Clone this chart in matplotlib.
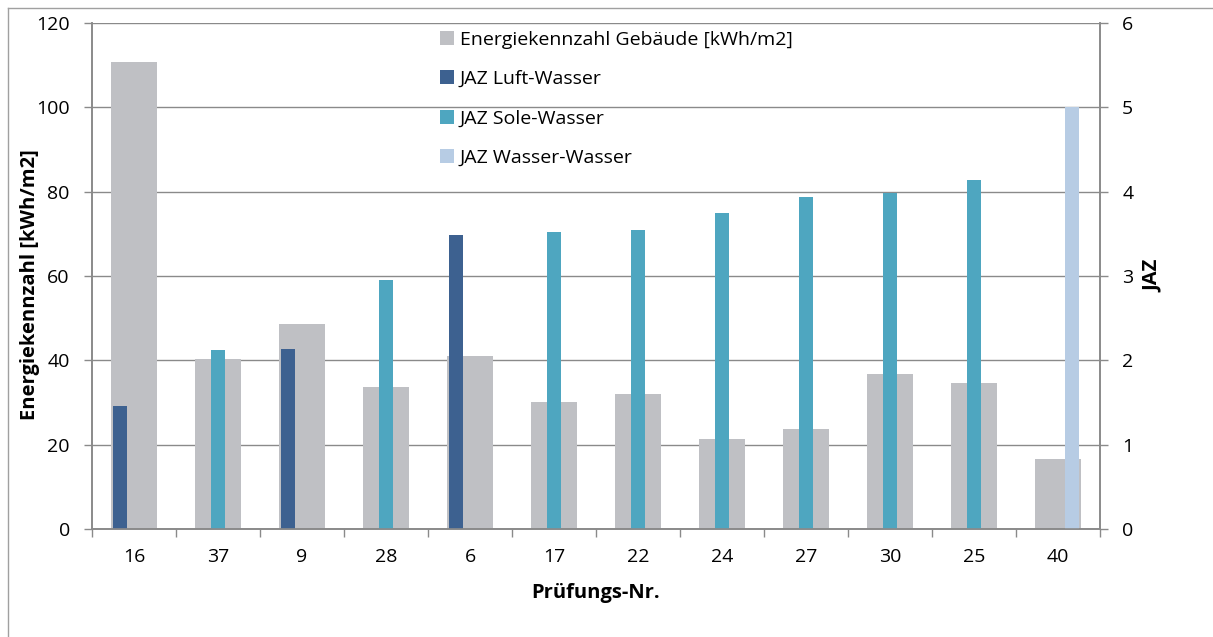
import matplotlib
matplotlib.use("Agg")
import matplotlib.pyplot as plt
from matplotlib.lines import Line2D
import numpy as np

plt.rcParams['font.family'] = ['Open Sans', 'DejaVu Sans']

# data
pruefungen = ['16', '37', '9', '28', '6', '17', '22', '24', '27', '30', '25', '40']
energiekennzahl = [110.7, 40.3, 48.6, 33.7, 41.1, 30.1, 32.1, 21.3, 23.6, 36.8, 34.6, 16.6]
nan = np.nan
jaz_luft = [1.46, nan, 2.14, nan, 3.49, nan, nan, nan, nan, nan, nan, nan]
jaz_sole = [nan, 2.12, nan, 2.95, nan, 3.52, 3.54, 3.75, 3.94, 3.98, 4.14, nan]
jaz_wasser = [nan, nan, nan, nan, nan, nan, nan, nan, nan, nan, nan, 5.0]

c_grau = '#bfc0c4'
c_luft = '#3d6190'
c_sole = '#4ea6c0'
c_wasser = '#b7cce4'
c_achse = '#8a8a8a'

fs = 14       # tick and legend text
fs_bold = 14.5  # axis titles

fig = plt.figure(figsize=(12.13, 6.37), dpi=100)
ax = fig.add_axes([92/1213, 108/637, (1100-92)/1213, (529-23)/637])
ax2 = ax.twinx()

x = np.arange(len(pruefungen))
b0 = ax.bar(x, energiekennzahl, width=0.55, color=c_grau, zorder=2)
w = 1/6
b1 = ax2.bar(x - w, jaz_luft, width=w, color=c_luft)
b2 = ax2.bar(x, jaz_sole, width=w, color=c_sole)
b3 = ax2.bar(x + w, jaz_wasser, width=w, color=c_wasser)

ax.set_xlim(-0.5, len(pruefungen) - 0.5)
ax.set_ylim(0, 120)
ax2.set_ylim(0, 6)
ax.set_yticks(range(0, 121, 20))
ax2.set_yticks(range(0, 7))

ax.set_axisbelow(True)
ax.yaxis.grid(True, color=c_achse, linewidth=1.0)

ax.set_xticks(x)
ax.set_xticklabels(pruefungen)
ax.set_xticks(np.arange(-0.5, len(pruefungen)), minor=True)
ax.tick_params(axis='x', which='major', length=0, pad=14, labelsize=fs)
ax.tick_params(axis='x', which='minor', length=6, color=c_achse, width=1)
ax.tick_params(axis='y', length=6, color=c_achse, width=1, pad=10, labelsize=fs)
ax2.tick_params(axis='y', length=6, color=c_achse, width=1, pad=10, labelsize=fs)

for a in (ax, ax2):
    a.spines['top'].set_visible(False)
    for s in ('left', 'right', 'bottom'):
        a.spines[s].set_color(c_achse)
        a.spines[s].set_linewidth(1.2)

ax.set_ylabel('Energiekennzahl [kWh/m2]', fontsize=fs_bold, fontweight='bold')
ax2.set_ylabel('JAZ', fontsize=fs_bold, fontweight='bold')
ax.set_xlabel('Prüfungs-Nr.', fontsize=fs_bold, fontweight='bold')
ax.yaxis.set_label_coords(-0.0516, 0.482)
ax2.yaxis.set_label_coords(1.0427, 0.5)
ax.xaxis.set_label_coords(0.5, -0.1067)

labels = ['Energiekennzahl Gebäude [kWh/m2]', 'JAZ Luft-Wasser', 'JAZ Sole-Wasser', 'JAZ Wasser-Wasser']
fig.legend([b0, b1, b2, b3], labels, loc='upper left',
           bbox_to_anchor=(432/1213, 1 - 23/637), frameon=False, fontsize=fs,
           handlelength=0.72, handleheight=0.72, handletextpad=0.3,
           labelspacing=1.1, borderaxespad=0)

# outer chart frame
fig.add_artist(Line2D([8/1213, 1], [1 - 8/637, 1 - 8/637], color='#a0a0a0', linewidth=1))
fig.add_artist(Line2D([8/1213, 8/1213], [0, 1 - 8/637], color='#a0a0a0', linewidth=1))

fig.savefig('out.png', dpi=100)
